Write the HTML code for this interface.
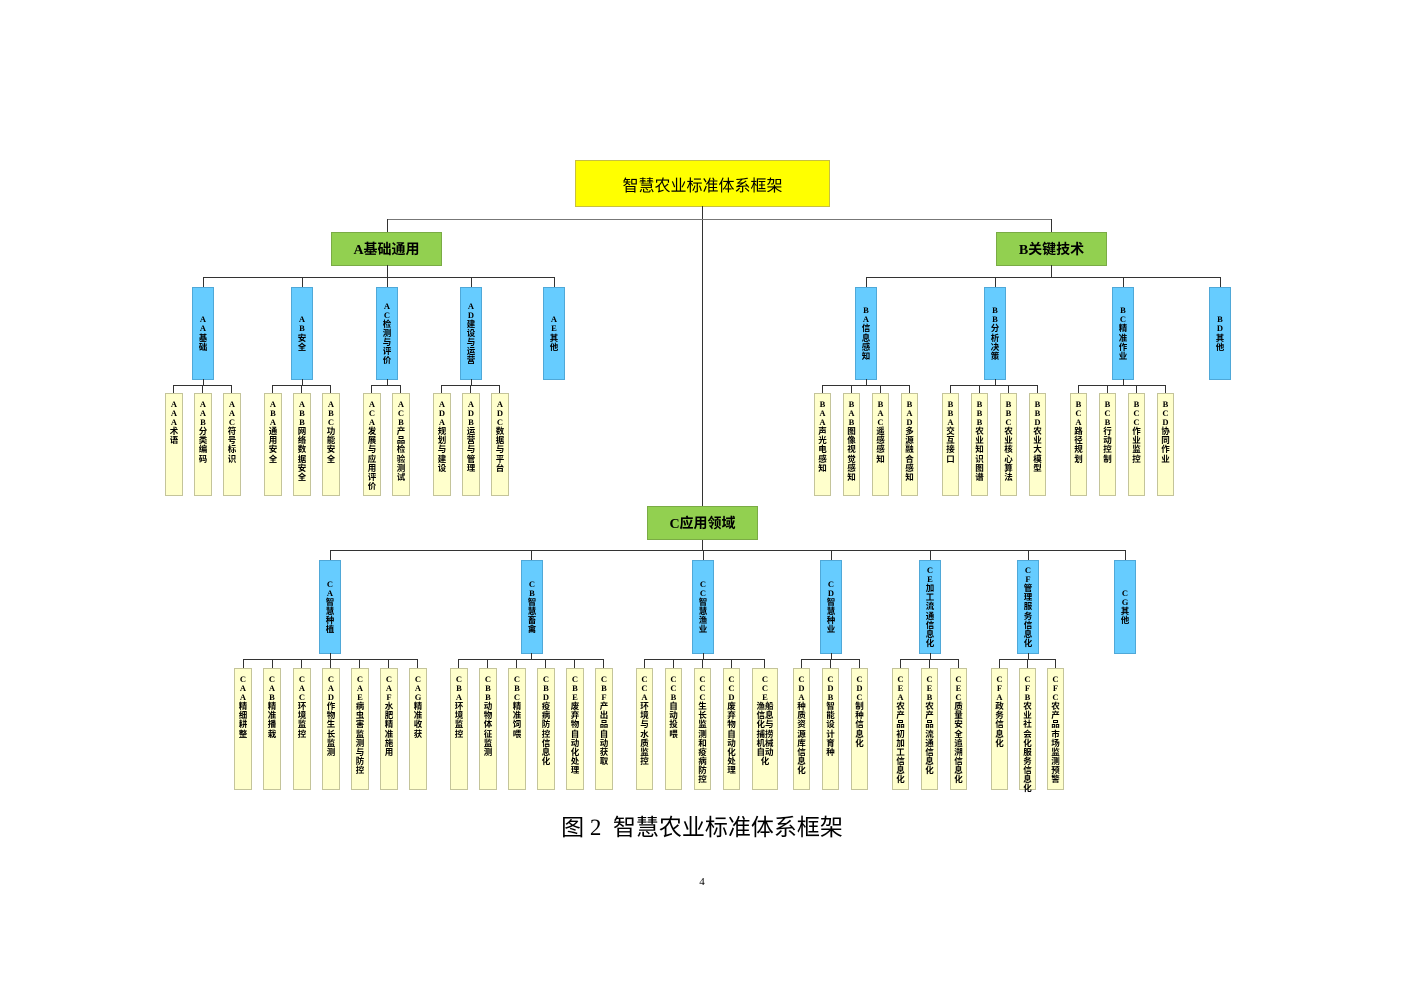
<!DOCTYPE html>
<html><head><meta charset="utf-8"><style>
body{margin:0;background:#fff}
#p{position:relative;width:1403px;height:992px;overflow:hidden;background:#fff}
#p div{position:absolute;box-sizing:border-box}
.h{height:1px;background:#333}
.v{width:1px;background:#333}
.b,.l{display:flex;justify-content:center;font:bold 8.5px/9.1px "Liberation Serif","Noto Sans CJK SC",serif;color:#000;text-align:center}
.b{background:#66ccff;border:1px solid #4fa8d8;align-items:center}
.l{background:#ffffcc;border:1px solid #c4c49a;align-items:flex-start;padding-top:6px}
.b span,.l span{display:block;width:10px;word-break:break-all}
.l span.w{width:19px}
.g{background:#92d050;border:1px solid #7aab45;display:flex;align-items:center;justify-content:center;font:bold 14px "Liberation Serif","Noto Sans CJK SC",serif}
</style></head><body><div id="p">
<div style="left:575px;top:160px;width:255px;height:47px;background:#ffff00;border:1px solid #c8c040;display:flex;align-items:center;justify-content:center;font:16px 'Liberation Sans','Noto Sans CJK SC',sans-serif">智慧农业标准体系框架</div>
<div class="v" style="left:702px;top:206px;height:300px"></div>
<div class="h" style="left:387px;top:219px;width:665px;background:#777"></div>
<div class="v" style="left:387px;top:219px;height:13px"></div>
<div class="v" style="left:1051px;top:219px;height:13px"></div>
<div class="g" style="left:331px;top:232px;width:111px;height:34px">A基础通用</div>
<div class="g" style="left:996px;top:232px;width:111px;height:34px">B关键技术</div>
<div class="g" style="left:647px;top:506px;width:111px;height:34px">C应用领域</div>

<!-- A -->
<div class="v" style="left:387px;top:265px;height:12px"></div>
<div class="h" style="left:203px;top:277px;width:352px"></div>
<div class="v" style="left:203px;top:277px;height:10px"></div>
<div class="v" style="left:302px;top:277px;height:10px"></div>
<div class="v" style="left:387px;top:277px;height:10px"></div>
<div class="v" style="left:471px;top:277px;height:10px"></div>
<div class="v" style="left:554px;top:277px;height:10px"></div>
<div class="b" style="left:192px;top:287px;width:22px;height:93px"><span>AA基础</span></div>
<div class="b" style="left:291px;top:287px;width:22px;height:93px"><span>AB安全</span></div>
<div class="b" style="left:376px;top:287px;width:22px;height:93px"><span>AC检测与评价</span></div>
<div class="b" style="left:460px;top:287px;width:22px;height:93px"><span>AD建设与运营</span></div>
<div class="b" style="left:543px;top:287px;width:22px;height:93px"><span>AE其他</span></div>
<div class="v" style="left:203px;top:379px;height:6px"></div>
<div class="h" style="left:173px;top:385px;width:59px"></div>
<div class="v" style="left:173px;top:385px;height:8px"></div><div class="v" style="left:202px;top:385px;height:8px"></div><div class="v" style="left:231px;top:385px;height:8px"></div>
<div class="l" style="left:165px;top:393px;width:18px;height:103px"><span>AAA术语</span></div>
<div class="l" style="left:194px;top:393px;width:18px;height:103px"><span>AAB分类编码</span></div>
<div class="l" style="left:223px;top:393px;width:18px;height:103px"><span>AAC符号标识</span></div>
<div class="v" style="left:302px;top:379px;height:6px"></div>
<div class="h" style="left:272px;top:385px;width:59px"></div>
<div class="v" style="left:272px;top:385px;height:8px"></div><div class="v" style="left:301px;top:385px;height:8px"></div><div class="v" style="left:330px;top:385px;height:8px"></div>
<div class="l" style="left:264px;top:393px;width:18px;height:103px"><span>ABA通用安全</span></div>
<div class="l" style="left:293px;top:393px;width:18px;height:103px"><span>ABB网络数据安全</span></div>
<div class="l" style="left:322px;top:393px;width:18px;height:103px"><span>ABC功能安全</span></div>
<div class="v" style="left:387px;top:379px;height:6px"></div>
<div class="h" style="left:371px;top:385px;width:30px"></div>
<div class="v" style="left:371px;top:385px;height:8px"></div><div class="v" style="left:400px;top:385px;height:8px"></div>
<div class="l" style="left:363px;top:393px;width:18px;height:103px"><span>ACA发展与应用评价</span></div>
<div class="l" style="left:392px;top:393px;width:18px;height:103px"><span>ACB产品检验测试</span></div>
<div class="v" style="left:471px;top:379px;height:6px"></div>
<div class="h" style="left:441px;top:385px;width:59px"></div>
<div class="v" style="left:441px;top:385px;height:8px"></div><div class="v" style="left:470px;top:385px;height:8px"></div><div class="v" style="left:499px;top:385px;height:8px"></div>
<div class="l" style="left:433px;top:393px;width:18px;height:103px"><span>ADA规划与建设</span></div>
<div class="l" style="left:462px;top:393px;width:18px;height:103px"><span>ADB运营与管理</span></div>
<div class="l" style="left:491px;top:393px;width:18px;height:103px"><span>ADC数据与平台</span></div>

<!-- B -->
<div class="v" style="left:1051px;top:265px;height:12px"></div>
<div class="h" style="left:866px;top:277px;width:354px"></div>
<div class="v" style="left:866px;top:277px;height:10px"></div>
<div class="v" style="left:995px;top:277px;height:10px"></div>
<div class="v" style="left:1123px;top:277px;height:10px"></div>
<div class="v" style="left:1220px;top:277px;height:10px"></div>
<div class="b" style="left:855px;top:287px;width:22px;height:93px"><span>BA信息感知</span></div>
<div class="b" style="left:984px;top:287px;width:22px;height:93px"><span>BB分析决策</span></div>
<div class="b" style="left:1112px;top:287px;width:22px;height:93px"><span>BC精准作业</span></div>
<div class="b" style="left:1209px;top:287px;width:22px;height:93px"><span>BD其他</span></div>
<div class="v" style="left:866px;top:379px;height:6px"></div>
<div class="h" style="left:822px;top:385px;width:88px"></div>
<div class="v" style="left:822px;top:385px;height:8px"></div><div class="v" style="left:851px;top:385px;height:8px"></div><div class="v" style="left:880px;top:385px;height:8px"></div><div class="v" style="left:909px;top:385px;height:8px"></div>
<div class="l" style="left:814px;top:393px;width:17px;height:103px"><span>BAA声光电感知</span></div>
<div class="l" style="left:843px;top:393px;width:17px;height:103px"><span>BAB图像视觉感知</span></div>
<div class="l" style="left:872px;top:393px;width:17px;height:103px"><span>BAC遥感感知</span></div>
<div class="l" style="left:901px;top:393px;width:17px;height:103px"><span>BAD多源融合感知</span></div>
<div class="v" style="left:995px;top:379px;height:6px"></div>
<div class="h" style="left:950px;top:385px;width:88px"></div>
<div class="v" style="left:950px;top:385px;height:8px"></div><div class="v" style="left:979px;top:385px;height:8px"></div><div class="v" style="left:1008px;top:385px;height:8px"></div><div class="v" style="left:1037px;top:385px;height:8px"></div>
<div class="l" style="left:942px;top:393px;width:17px;height:103px"><span>BBA交互接口</span></div>
<div class="l" style="left:971px;top:393px;width:17px;height:103px"><span>BBB农业知识图谱</span></div>
<div class="l" style="left:1000px;top:393px;width:17px;height:103px"><span>BBC农业核心算法</span></div>
<div class="l" style="left:1029px;top:393px;width:17px;height:103px"><span>BBD农业大模型</span></div>
<div class="v" style="left:1123px;top:379px;height:6px"></div>
<div class="h" style="left:1078px;top:385px;width:88px"></div>
<div class="v" style="left:1078px;top:385px;height:8px"></div><div class="v" style="left:1107px;top:385px;height:8px"></div><div class="v" style="left:1136px;top:385px;height:8px"></div><div class="v" style="left:1165px;top:385px;height:8px"></div>
<div class="l" style="left:1070px;top:393px;width:17px;height:103px"><span>BCA路径规划</span></div>
<div class="l" style="left:1099px;top:393px;width:17px;height:103px"><span>BCB行动控制</span></div>
<div class="l" style="left:1128px;top:393px;width:17px;height:103px"><span>BCC作业监控</span></div>
<div class="l" style="left:1157px;top:393px;width:17px;height:103px"><span>BCD协同作业</span></div>

<!-- C -->
<div class="v" style="left:702px;top:540px;height:10px"></div>
<div class="h" style="left:330px;top:550px;width:796px"></div>
<div class="v" style="left:330px;top:550px;height:10px"></div>
<div class="v" style="left:531px;top:550px;height:10px"></div>
<div class="v" style="left:703px;top:550px;height:10px"></div>
<div class="v" style="left:831px;top:550px;height:10px"></div>
<div class="v" style="left:930px;top:550px;height:10px"></div>
<div class="v" style="left:1028px;top:550px;height:10px"></div>
<div class="v" style="left:1125px;top:550px;height:10px"></div>
<div class="b" style="left:319px;top:560px;width:22px;height:94px"><span>CA智慧种植</span></div>
<div class="b" style="left:521px;top:560px;width:22px;height:94px"><span>CB智慧畜禽</span></div>
<div class="b" style="left:692px;top:560px;width:22px;height:94px"><span>CC智慧渔业</span></div>
<div class="b" style="left:820px;top:560px;width:22px;height:94px"><span>CD智慧种业</span></div>
<div class="b" style="left:919px;top:560px;width:22px;height:94px"><span>CE加工流通信息化</span></div>
<div class="b" style="left:1017px;top:560px;width:22px;height:94px"><span>CF管理服务信息化</span></div>
<div class="b" style="left:1114px;top:560px;width:22px;height:94px"><span>CG其他</span></div>

<div class="v" style="left:330px;top:653px;height:6px"></div>
<div class="h" style="left:243px;top:659px;width:175px"></div>
<div class="v" style="left:243px;top:659px;height:9px"></div><div class="v" style="left:272px;top:659px;height:9px"></div><div class="v" style="left:301px;top:659px;height:9px"></div><div class="v" style="left:330px;top:659px;height:9px"></div><div class="v" style="left:359px;top:659px;height:9px"></div><div class="v" style="left:388px;top:659px;height:9px"></div><div class="v" style="left:417px;top:659px;height:9px"></div>
<div class="l" style="left:234px;top:668px;width:18px;height:122px"><span>CAA精细耕整</span></div>
<div class="l" style="left:263px;top:668px;width:18px;height:122px"><span>CAB精准播栽</span></div>
<div class="l" style="left:293px;top:668px;width:18px;height:122px"><span>CAC环境监控</span></div>
<div class="l" style="left:322px;top:668px;width:18px;height:122px"><span>CAD作物生长监测</span></div>
<div class="l" style="left:351px;top:668px;width:18px;height:122px"><span>CAE病虫害监测与防控</span></div>
<div class="l" style="left:380px;top:668px;width:18px;height:122px"><span>CAF水肥精准施用</span></div>
<div class="l" style="left:409px;top:668px;width:18px;height:122px"><span>CAG精准收获</span></div>

<div class="v" style="left:531px;top:653px;height:6px"></div>
<div class="h" style="left:458px;top:659px;width:146px"></div>
<div class="v" style="left:458px;top:659px;height:9px"></div><div class="v" style="left:487px;top:659px;height:9px"></div><div class="v" style="left:516px;top:659px;height:9px"></div><div class="v" style="left:545px;top:659px;height:9px"></div><div class="v" style="left:574px;top:659px;height:9px"></div><div class="v" style="left:603px;top:659px;height:9px"></div>
<div class="l" style="left:450px;top:668px;width:18px;height:122px"><span>CBA环境监控</span></div>
<div class="l" style="left:479px;top:668px;width:18px;height:122px"><span>CBB动物体征监测</span></div>
<div class="l" style="left:508px;top:668px;width:18px;height:122px"><span>CBC精准饲喂</span></div>
<div class="l" style="left:537px;top:668px;width:18px;height:122px"><span>CBD疫病防控信息化</span></div>
<div class="l" style="left:566px;top:668px;width:18px;height:122px"><span>CBE废弃物自动化处理</span></div>
<div class="l" style="left:595px;top:668px;width:18px;height:122px"><span>CBF产出品自动获取</span></div>

<div class="v" style="left:703px;top:653px;height:6px"></div>
<div class="h" style="left:644px;top:659px;width:121px"></div>
<div class="v" style="left:644px;top:659px;height:9px"></div><div class="v" style="left:673px;top:659px;height:9px"></div><div class="v" style="left:702px;top:659px;height:9px"></div><div class="v" style="left:731px;top:659px;height:9px"></div><div class="v" style="left:764px;top:659px;height:9px"></div>
<div class="l" style="left:636px;top:668px;width:17px;height:122px"><span>CCA环境与水质监控</span></div>
<div class="l" style="left:665px;top:668px;width:17px;height:122px"><span>CCB自动投喂</span></div>
<div class="l" style="left:694px;top:668px;width:17px;height:122px"><span>CCC生长监测和疫病防控</span></div>
<div class="l" style="left:723px;top:668px;width:17px;height:122px"><span>CCD废弃物自动化处理</span></div>
<div class="l" style="left:752px;top:668px;width:26px;height:122px"><span class="w">C<br>C<br>E<br>渔船信息化与捕捞机械自动化</span></div>

<div class="v" style="left:831px;top:653px;height:6px"></div>
<div class="h" style="left:801px;top:659px;width:59px"></div>
<div class="v" style="left:801px;top:659px;height:9px"></div><div class="v" style="left:830px;top:659px;height:9px"></div><div class="v" style="left:859px;top:659px;height:9px"></div>
<div class="l" style="left:793px;top:668px;width:17px;height:122px"><span>CDA种质资源库信息化</span></div>
<div class="l" style="left:822px;top:668px;width:17px;height:122px"><span>CDB智能设计育种</span></div>
<div class="l" style="left:851px;top:668px;width:17px;height:122px"><span>CDC制种信息化</span></div>

<div class="v" style="left:930px;top:653px;height:6px"></div>
<div class="h" style="left:900px;top:659px;width:59px"></div>
<div class="v" style="left:900px;top:659px;height:9px"></div><div class="v" style="left:929px;top:659px;height:9px"></div><div class="v" style="left:958px;top:659px;height:9px"></div>
<div class="l" style="left:892px;top:668px;width:17px;height:122px"><span>CEA农产品初加工信息化</span></div>
<div class="l" style="left:921px;top:668px;width:17px;height:122px"><span>CEB农产品流通信息化</span></div>
<div class="l" style="left:950px;top:668px;width:17px;height:122px"><span>CEC质量安全追溯信息化</span></div>

<div class="v" style="left:1028px;top:653px;height:6px"></div>
<div class="h" style="left:999px;top:659px;width:57px"></div>
<div class="v" style="left:999px;top:659px;height:9px"></div><div class="v" style="left:1027px;top:659px;height:9px"></div><div class="v" style="left:1055px;top:659px;height:9px"></div>
<div class="l" style="left:991px;top:668px;width:17px;height:122px"><span>CFA政务信息化</span></div>
<div class="l" style="left:1019px;top:668px;width:17px;height:122px"><span>CFB农业社会化服务信息化</span></div>
<div class="l" style="left:1047px;top:668px;width:17px;height:122px"><span>CFC农产品市场监测预警</span></div>

<div style="left:450px;top:808px;width:504px;text-align:center;font:23px 'Liberation Serif','Noto Sans CJK SC',serif;white-space:nowrap">图 2&nbsp; 智慧农业标准体系框架</div>
<div style="left:680px;top:876px;width:44px;text-align:center;font:11px 'Liberation Serif',serif">4</div>
</div></body></html>
